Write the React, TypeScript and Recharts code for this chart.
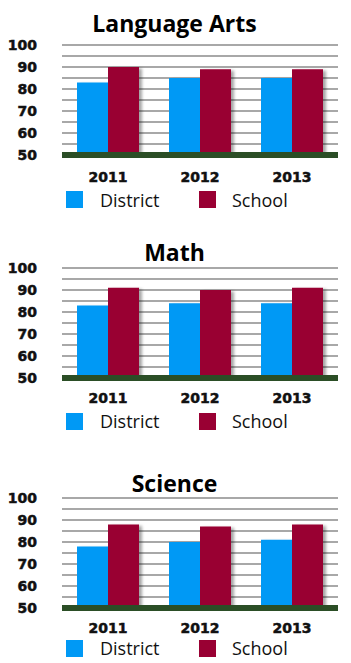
import { BarChart, Bar, XAxis, YAxis, CartesianGrid, ReferenceLine, Legend } from "recharts";

const years = ["2011", "2012", "2013"];
const yTicks = [50, 55, 60, 65, 70, 75, 80, 85, 90, 95, 100];

const subjects = ["Language Arts", "Math", "Science"];
const districtLA = [83, 85, 85];
const schoolLA = [90, 89, 89];
const districtMath = [83, 84, 84];
const schoolMath = [91, 90, 91];
const districtSci = [78, 80, 81];
const schoolSci = [88, 87, 88];

const DISTRICT = "#0099f5";
const SCHOOL = "#990033";

// per-panel geometry
const panels = [
  { titleY: 23, plotTop: 45, plotBottom: 155, tickMargin: 17, legendY: 199.5, district: districtLA, school: schoolLA },
  { titleY: 252, plotTop: 268, plotBottom: 378, tickMargin: 15, legendY: 421, district: districtMath, school: schoolMath },
  { titleY: 483, plotTop: 498, plotBottom: 608, tickMargin: 15, legendY: 648, district: districtSci, school: schoolSci },
];

const tickStyle = {
  fill: "#111",
  stroke: "#111",
  strokeWidth: 0.5,
  fontFamily: "'DejaVu Sans', sans-serif",
  fontWeight: 700,
  fontSize: 14,
};

const renderLegend = () => (
  <div style={{ position: "relative", width: 351, height: 20, fontFamily: "'Open Sans', sans-serif", fontSize: 18, color: "#111" }}>
    <div style={{ position: "absolute", left: 66, top: 1.5, width: 17, height: 17, background: DISTRICT }} />
    <div style={{ position: "absolute", left: 100, top: 0, lineHeight: "20px" }}>District</div>
    <div style={{ position: "absolute", left: 199, top: 1.5, width: 17, height: 17, background: SCHOOL }} />
    <div style={{ position: "absolute", left: 232, top: 0, lineHeight: "20px" }}>School</div>
  </div>
);

function Panel({ idx }: { idx: number }) {
  const p = panels[idx];
  const top = p.plotTop - 20;
  const legendBottom = p.legendY + 10;
  const height = legendBottom - top;
  const data = years.map((y, i) => ({ year: y, district: p.district[i], school: p.school[i] }));
  return (
    <>
      <div
        style={{
          position: "absolute",
          left: 0,
          width: 351,
          top: p.titleY - 16,
          height: 32,
          lineHeight: "32px",
          textAlign: "center",
          fontFamily: "'Open Sans', sans-serif",
          fontWeight: 700,
          fontSize: 23,
          color: "#000",
        }}
      >
        <span style={{ position: "relative", left: -1 }}>{subjects[idx]}</span>
      </div>
      <div style={{ position: "absolute", left: 0, top }}>
        <BarChart
          width={351}
          height={height}
          data={data}
          margin={{ top: 20, right: 13, left: 0, bottom: 0 }}
          barGap={0}
          barSize={31}
        >
          <CartesianGrid horizontal vertical={false} stroke="#a8a8a8" strokeWidth={2} />
          <XAxis
            dataKey="year"
            axisLine={false}
            tickLine={false}
            tickSize={0}
            tickMargin={p.tickMargin}
            height={p.legendY - 10 - p.plotBottom}
            interval={0}
            tick={tickStyle}
          />
          <YAxis
            domain={[50, 100]}
            ticks={yTicks}
            allowDataOverflow
            width={62}
            axisLine={false}
            tickLine={false}
            tickSize={0}
            tickMargin={25}
            interval={0}
            tickFormatter={(v: number) => (v % 10 === 0 ? String(v) : "")}
            tick={tickStyle}
          />
          <Bar dataKey="district" name="District" fill={DISTRICT} filter="url(#barShadow)" isAnimationActive={false} />
          <Bar dataKey="school" name="School" fill={SCHOOL} filter="url(#barShadow)" isAnimationActive={false} />
          <ReferenceLine y={50} stroke="#2b4e26" strokeWidth={6} />
          <Legend verticalAlign="bottom" content={renderLegend} wrapperStyle={{ left: 0, width: 351, height: 20 }} />
        </BarChart>
      </div>
    </>
  );
}

export default function App() {
  return (
    <div style={{ position: "absolute", left: 0, top: 0, width: 351, height: 663, background: "#fff", overflow: "hidden" }}>
      <svg width={0} height={0} style={{ position: "absolute" }}>
        <defs>
          <filter id="barShadow" x="-20%" y="-20%" width="150%" height="150%">
            <feDropShadow dx={3} dy={1.5} stdDeviation={1.5} floodColor="#000" floodOpacity={0.35} />
          </filter>
        </defs>
      </svg>
      <Panel idx={0} />
      <Panel idx={1} />
      <Panel idx={2} />
    </div>
  );
}
